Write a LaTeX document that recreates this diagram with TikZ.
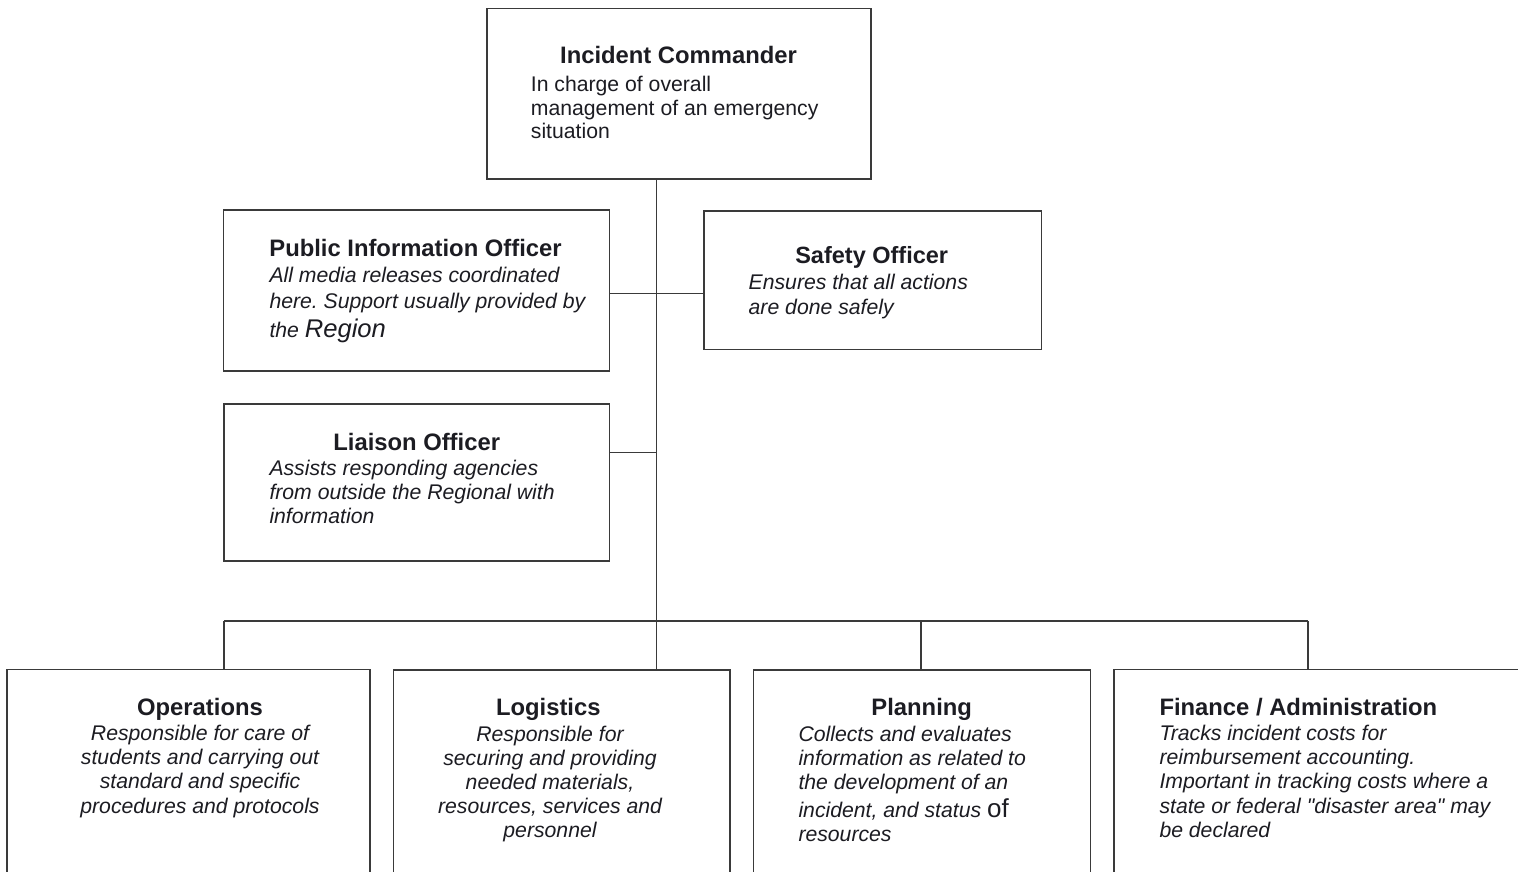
\documentclass[tikz,border=0pt]{standalone}
\usepackage{fontspec}
\setmainfont{Liberation Sans}
% a face without the TeX ligature mapping, for straight double quotes
\newfontfamily\quotefont{Liberation Sans}
\frenchspacing
\definecolor{ink}{HTML}{1C1C22}
\definecolor{rule}{HTML}{3A3A3A}
\newcommand{\dq}{{\quotefont\itshape"}}
\begin{document}
\begin{tikzpicture}[x=1pt,y=-1pt,
  box/.style={draw=rule, line width=1.4pt, rectangle, inner sep=0pt, outer sep=0pt, anchor=north west},
  link/.style={draw=rule, line width=1.3pt},
  head/.style={font=\fontsize{23.8}{28}\selectfont\bfseries, text=ink, inner sep=0pt, anchor=base},
  headl/.style={head, anchor=base west},
  body/.style={font=\fontsize{21.2}{24}\selectfont\itshape, text=ink, inner sep=0pt, anchor=base west},
  bodyc/.style={body, anchor=base},
]
% page area
\fill[white] (0,0) rectangle (1518,871);
\clip (0,0) rectangle (1518,871);

% boxes
\node[box, minimum width=384, minimum height=170.5] (ic)  at (487,8.5) {};
\node[box, minimum width=386, minimum height=161]   (pio) at (223.5,210) {};
\node[box, minimum width=337.5, minimum height=138.5] (saf) at (704,211) {};
\node[box, minimum width=385.5, minimum height=157] (lia) at (224,404) {};
\node[box, minimum width=363, minimum height=260]   (op)  at (7,669.5) {};
\node[box, minimum width=336.5, minimum height=260] (lg)  at (393.5,670) {};
\node[box, minimum width=337, minimum height=260]   (pl)  at (753.5,670) {};
\node[box, minimum width=450, minimum height=260]   (fin) at (1114,669.5) {};

% reference lines for the connectors
\coordinate (tk)  at (656.5,0);
\coordinate (ps)  at (0,293.5);
\coordinate (lj)  at (0,452.5);
\coordinate (bus) at (0,621);
\coordinate (dop) at (224,0);
\coordinate (dpl) at (921,0);
\coordinate (dfi) at (1308,0);

% connectors
\draw[link] (ic.south -| tk) -- (lg.north -| tk);
\draw[link] (pio.east |- ps) -- (saf.west |- ps);
\draw[link] (lia.east |- lj) -- (tk |- lj);
\draw[link] (dop |- bus) -- (dfi |- bus);
\draw[link] (dop |- bus) -- (dop |- op.north);
\draw[link] (dpl |- bus) -- (dpl |- pl.north);
\draw[link] (dfi |- bus) -- (dfi |- fin.north);

% Incident Commander
\node[head] (ict) at (678.5,63.3) {Incident Commander};
\node[body, font=\fontsize{21.2}{23.4}\selectfont] (icd) at (530.7,91.7)
  {\begin{tabular}[t]{@{}l@{}}In charge of overall\\management of an emergency\\situation\end{tabular}};

% Public Information Officer
\node[head] (piot) at (415.5,256.7) {Public Information Officer};
\node[body, font=\fontsize{21.2}{25.6}\selectfont\itshape] (piod) at (269.3,282.7)
  {\begin{tabular}[t]{@{}l@{}}All media releases coordinated\\here. Support usually provided by\\[3pt]the {\fontsize{25.6}{28}\selectfont Region}\end{tabular}};

% Safety Officer
\node[head, font=\fontsize{23.5}{28}\selectfont\bfseries] (saft) at (871.7,263.3) {Safety Officer};
\node[body, font=\fontsize{21.2}{25}\selectfont\itshape] (safd) at (748.5,289.5)
  {\begin{tabular}[t]{@{}l@{}}Ensures that all actions\\are done safely\end{tabular}};

% Liaison Officer
\node[head] (liat) at (416.7,450) {Liaison Officer};
\node[body] (liad) at (269.3,475)
  {\begin{tabular}[t]{@{}l@{}}Assists responding agencies\\from outside the Regional with\\information\end{tabular}};

% Operations
\node[head] (opt) at (200,715) {Operations};
\node[bodyc, font=\fontsize{21.2}{24.4}\selectfont\itshape] (opd) at (200,740)
  {\begin{tabular}[t]{@{}c@{}}Responsible for care of\\students and carrying out\\standard and specific\\procedures and protocols\end{tabular}};

% Logistics
\node[head] (lgt) at (548.3,715) {Logistics};
\node[bodyc] (lgd) at (550,741.7)
  {\begin{tabular}[t]{@{}c@{}}Responsible for\\securing and providing\\needed materials,\\resources, services and\\personnel\end{tabular}};

% Planning
\node[head] (plt) at (921.7,715) {Planning};
\node[body] (pld) at (798.3,741.7)
  {\begin{tabular}[t]{@{}l@{}}Collects and evaluates\\information as related to\\the development of an\\[2pt]incident, and status {\upshape\fontsize{26}{28}\selectfont of}\\resources\end{tabular}};

% Finance / Administration
\node[headl] (fint) at (1159.3,715) {Finance / Administration};
\node[body, font=\fontsize{21.2}{24.4}\selectfont\itshape] (find) at (1159.3,740)
  {\begin{tabular}[t]{@{}l@{}}Tracks incident costs for\\reimbursement accounting.\\Important in tracking costs where a\\state or federal \dq disaster area\dq{} may\\be declared\end{tabular}};
\end{tikzpicture}
\end{document}
